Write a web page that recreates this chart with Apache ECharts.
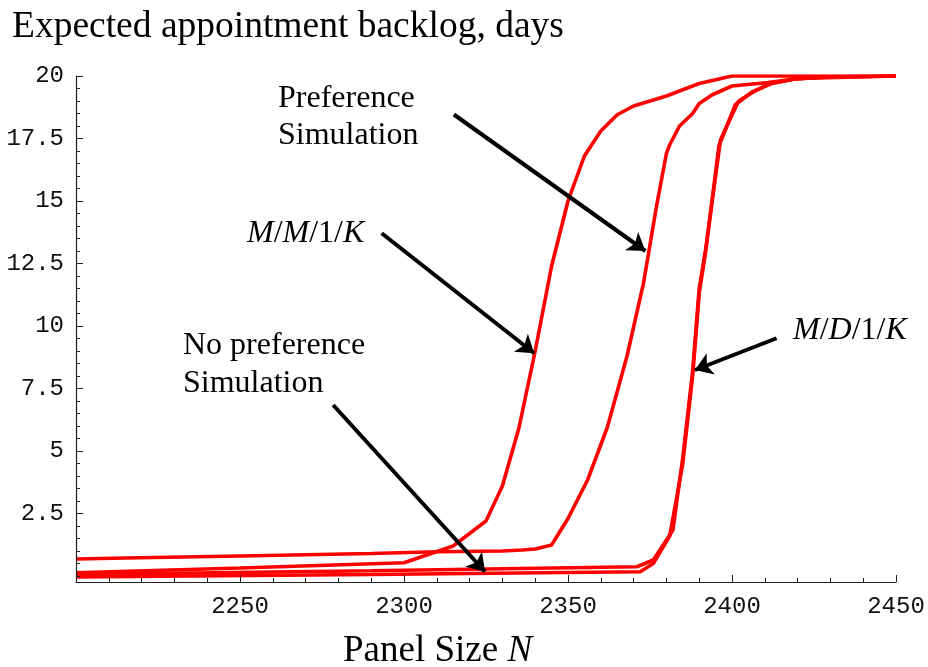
<!DOCTYPE html>
<html>
<head>
<meta charset="utf-8">
<script src="https://cdn.jsdelivr.net/npm/echarts@6/dist/echarts.min.js"></script>
<style>
html,body{margin:0;padding:0;background:#fff;}
#chart{width:928px;height:667px;}
</style>
</head>
<body>
<div id="chart"></div>
<script>
// ---- data ----
var mmkX = [2200, 2250, 2300, 2315, 2325, 2330, 2335, 2340, 2345, 2350, 2355, 2360, 2365, 2370, 2380, 2390, 2400, 2450];
var mmkY = [0.13, 0.32, 0.53, 1.2, 2.2, 3.6, 5.9, 9.0, 12.4, 15.0, 16.8, 17.8, 18.45, 18.8, 19.2, 19.7, 20.0, 20.0];

var prefX = [2200, 2215, 2250, 2290, 2310, 2330, 2336, 2340, 2345, 2350, 2356, 2362, 2368, 2373, 2377, 2380, 2381, 2384, 2388, 2390, 2394, 2400, 2411, 2419, 2430, 2450];
var prefY = [0.68, 0.72, 0.80, 0.90, 0.97, 1.00, 1.04, 1.08, 1.24, 2.3, 3.85, 5.95, 8.8, 11.7, 14.8, 16.9, 17.25, 18.0, 18.5, 18.9, 19.25, 19.6, 19.74, 19.88, 19.97, 20.0];

var mdkX = [2200, 2290, 2371, 2376, 2382, 2385, 2388, 2390, 2392, 2396.5, 2402, 2407, 2411, 2419, 2430, 2450];
var mdkY = [0.06, 0.21, 0.37, 0.64, 1.84, 4.75, 8.2, 11.5, 13.1, 17.45, 19.0, 19.4, 19.68, 19.88, 19.96, 20.0];

var noprefX = [2200, 2290, 2372, 2376, 2381, 2385, 2388, 2390, 2392, 2396, 2401, 2406, 2412, 2420, 2450];
var noprefY = [-0.04, 0.06, 0.17, 0.5, 1.6, 4.5, 8.0, 11.3, 13.0, 17.2, 18.85, 19.35, 19.7, 19.9, 20.0];

var yTickLabels = [2.5, 5, 7.5, 10, 12.5, 15, 17.5, 20];
var xTickLabels = [2250, 2300, 2350, 2400, 2450];

// arrows: [startX, startY, endX, endY] in data units
var arrowPref = [2315.2, 18.46, 2373.6, 13.0];
var arrowMMK = [2293.2, 13.71, 2339.7, 8.91];
var arrowNoPref = [2278.4, 6.84, 2324.7, 0.17];
var arrowMDK = [2413.6, 9.51, 2388.7, 8.24];

// ---- build ----
function pairs(xs, ys) { var out = []; for (var i = 0; i < xs.length; i++) out.push([xs[i], ys[i]]); return out; }
var yMinor = []; for (var v = 0; v <= 20.0001; v += 0.5) yMinor.push(Math.round(v * 10) / 10);

var red = '#ff0000';
var serif = '"Liberation Serif", "Times New Roman", serif';
var mono = '"Liberation Mono", "Courier New", monospace';
var axisCol = '#222';

function arrowData(a) { return [{ coord: [a[0], a[1]] }, { coord: [a[2], a[3]] }]; }

function lineSeries(name, xs, ys, extra) {
  var s = {
    name: name, type: 'line', data: pairs(xs, ys), showSymbol: false, symbol: 'none',
    lineStyle: { color: red, width: 3.6 }, itemStyle: { color: red }, animation: false, silent: true, z: 2
  };
  if (extra) for (var k in extra) s[k] = extra[k];
  return s;
}

var chart = echarts.init(document.getElementById('chart'), null, { renderer: 'canvas' });
var italic = { fontStyle: 'italic', fontFamily: serif, fontSize: 32, fill: '#000' };

chart.setOption({
  backgroundColor: '#fff',
  animation: false,
  grid: { left: 76, top: 76, right: 32, bottom: 85, containLabel: false, outerBoundsMode: 'none' },
  xAxis: {
    type: 'value', min: 2200, max: 2450, interval: 50, position: 'bottom', z: 10,
    axisLine: { onZero: false, lineStyle: { color: axisCol, width: 1.2 } },
    axisTick: { show: true, inside: true, length: 7, lineStyle: { color: axisCol, width: 1 } },
    minorTick: { show: true, splitNumber: 5, length: 4, lineStyle: { color: axisCol, width: 1 } },
    splitLine: { show: false },
    minorSplitLine: { show: false },
    axisLabel: {
      showMinLabel: false,
      formatter: function (v) { return v === 2200 ? '' : String(v); },
      fontFamily: mono, fontSize: 24, color: '#111', margin: 13
    }
  },
  yAxis: [{
    type: 'value', min: -0.24, max: 20, z: 10,
    axisLine: { show: true, onZero: false, lineStyle: { color: axisCol, width: 1.2 } },
    axisTick: { show: true, inside: true, length: 7, customValues: yTickLabels, lineStyle: { color: axisCol, width: 1 } },
    splitLine: { show: false },
    axisLabel: {
      customValues: yTickLabels,
      formatter: function (v) { return String(v); },
      fontFamily: mono, fontSize: 24, color: '#111', margin: 12
    }
  }, {
    type: 'value', min: -0.24, max: 20, position: 'left', offset: 0, z: 10,
    axisLine: { show: false },
    axisTick: { show: true, inside: true, length: 4, customValues: yMinor, lineStyle: { color: axisCol, width: 1 } },
    splitLine: { show: false },
    axisLabel: { show: false }
  }],
  series: [
    lineSeries('M/M/1/K', mmkX, mmkY),
    lineSeries('Preference Simulation', prefX, prefY),
    lineSeries('M/D/1/K', mdkX, mdkY),
    lineSeries('No preference Simulation', noprefX, noprefY, {
      markLine: {
        silent: true, animation: false,
        symbol: ['none', 'arrow'], symbolSize: 17,
        label: { show: false },
        lineStyle: { color: '#000', width: 4, type: 'solid' },
        itemStyle: { color: '#000' },
        data: [arrowData(arrowPref), arrowData(arrowMMK), arrowData(arrowNoPref), arrowData(arrowMDK)]
      }
    })
  ],
  graphic: [
    { type: 'text', x: 12, y: 27, style: { text: 'Expected appointment backlog, days', fontFamily: serif, fontSize: 37.5, fill: '#000', textAlign: 'left', textVerticalAlign: 'middle' } },
    { type: 'text', x: 343, y: 651, style: { text: 'Panel Size {i|N}', fontFamily: serif, fontSize: 37, fill: '#000', textAlign: 'left', textVerticalAlign: 'middle', rich: { i: { fontStyle: 'italic', fontFamily: serif, fontSize: 37 } } } },
    { type: 'text', x: 278, y: 99, style: { text: 'Preference', fontFamily: serif, fontSize: 32, fill: '#000', textAlign: 'left', textVerticalAlign: 'middle' } },
    { type: 'text', x: 278, y: 136, style: { text: 'Simulation', fontFamily: serif, fontSize: 32, fill: '#000', textAlign: 'left', textVerticalAlign: 'middle' } },
    { type: 'text', x: 247, y: 234, style: { text: '{i|M}/{i|M}/1/{i|K}', fontFamily: serif, fontSize: 32, fill: '#000', textAlign: 'left', textVerticalAlign: 'middle', rich: { i: italic } } },
    { type: 'text', x: 183, y: 346, style: { text: 'No preference', fontFamily: serif, fontSize: 32, fill: '#000', textAlign: 'left', textVerticalAlign: 'middle' } },
    { type: 'text', x: 183, y: 384, style: { text: 'Simulation', fontFamily: serif, fontSize: 32, fill: '#000', textAlign: 'left', textVerticalAlign: 'middle' } },
    { type: 'text', x: 793, y: 331, style: { text: '{i|M}/{i|D}/1/{i|K}', fontFamily: serif, fontSize: 32, fill: '#000', textAlign: 'left', textVerticalAlign: 'middle', rich: { i: italic } } }
  ]
});
</script>
</body>
</html>
